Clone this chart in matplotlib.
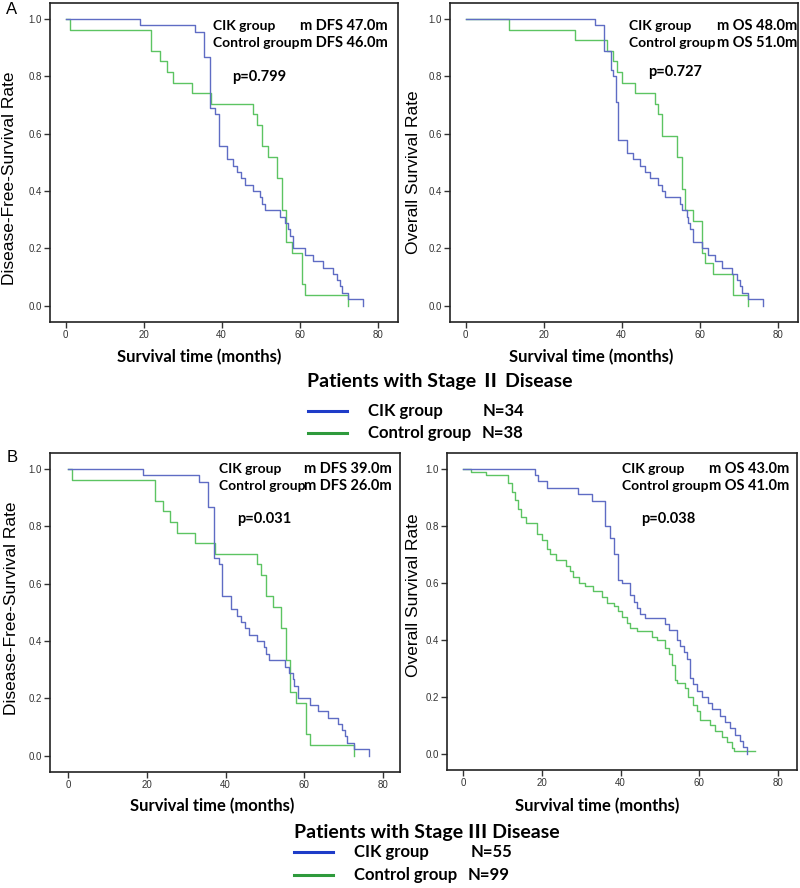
import numpy as np
import matplotlib
matplotlib.use("Agg")
import matplotlib.pyplot as plt

plt.rcParams['font.family'] = ['Liberation Sans', 'DejaVu Sans']

# ---- data (months, survival after each event) ----
# Stage II, disease-free survival
dfs2_cik_t = [19.1, 33.2, 35.5, 37.0, 38.3, 39.2, 41.3, 43.0, 44.0, 44.9, 46.0, 48.1, 49.8, 50.3,
              51.1, 55.0, 56.2, 57.1, 57.5, 58.4, 61.4, 63.5, 66.1, 68.6, 69.5, 70.3, 70.8, 72.5, 76.3]
dfs2_cik_s = [0.978, 0.956, 0.867, 0.689, 0.667, 0.556, 0.511, 0.489, 0.467, 0.444, 0.422, 0.400, 0.378, 0.356,
              0.333, 0.311, 0.289, 0.267, 0.244, 0.200, 0.178, 0.156, 0.133, 0.111, 0.089, 0.067, 0.044, 0.022, 0.0]
dfs2_ctl_t = [1.1, 22.0, 24.2, 26.0, 27.6, 32.3, 37.2, 48.1, 49.0, 50.3, 52.0, 54.1, 55.4, 56.4,
              58.0, 60.5, 61.4, 72.5]
dfs2_ctl_s = [0.963, 0.889, 0.852, 0.815, 0.778, 0.741, 0.704, 0.667, 0.630, 0.556, 0.519, 0.444, 0.333, 0.222,
              0.185, 0.074, 0.037, 0.0]

# Stage II, overall survival
os2_cik_t = [33.2, 35.5, 37.2, 37.9, 38.6, 39.1, 41.3, 43.0, 44.7, 46.0, 47.3, 49.4, 50.3, 51.1, 55.0,
             55.4, 56.7, 57.1, 57.5, 58.2, 60.5, 62.2, 63.9, 65.6, 68.2, 69.5, 70.3, 70.8, 72.5, 76.3]
os2_cik_s = [0.978, 0.889, 0.822, 0.800, 0.711, 0.578, 0.533, 0.511, 0.489, 0.467, 0.444, 0.422, 0.400, 0.378, 0.356,
             0.333, 0.311, 0.289, 0.267, 0.222, 0.200, 0.178, 0.156, 0.133, 0.111, 0.089, 0.067, 0.044, 0.022, 0.0]
os2_ctl_t = [11.1, 28.0, 36.2, 37.9, 38.8, 40.0, 43.4, 48.5, 49.4, 50.3, 54.1, 55.4, 56.2, 58.4, 60.5,
             61.4, 63.5, 68.6, 72.5]
os2_ctl_s = [0.963, 0.926, 0.889, 0.852, 0.815, 0.778, 0.741, 0.704, 0.667, 0.593, 0.519, 0.407, 0.333, 0.296, 0.185,
             0.148, 0.111, 0.037, 0.0]

# Stage III, disease-free survival (same curves as printed in panel A)
dfs3_cik_t, dfs3_cik_s = dfs2_cik_t, dfs2_cik_s
dfs3_ctl_t, dfs3_ctl_s = dfs2_ctl_t, dfs2_ctl_s

# Stage III, overall survival
os3_cik_t = [18.2, 19.1, 21.2, 29.3, 32.7, 36.0, 37.3, 38.2, 39.4, 40.3, 42.4, 43.3, 44.1, 45.0, 46.2, 51.3, 52.2,
             54.3, 55.1, 56.0, 56.8, 57.7, 58.5, 59.4, 60.6, 62.3, 63.2, 65.3, 66.6, 67.9, 69.1, 70.4, 71.2, 72.1]
os3_cik_s = [0.978, 0.956, 0.933, 0.911, 0.889, 0.800, 0.756, 0.700, 0.611, 0.600, 0.556, 0.533, 0.511, 0.489, 0.478,
             0.456, 0.433, 0.400, 0.378, 0.356, 0.333, 0.267, 0.244, 0.222, 0.200, 0.178, 0.156, 0.133, 0.111,
             0.089, 0.067, 0.044, 0.022, 0.0]
os3_ctl_t = [2.1, 5.9, 11.5, 12.3, 13.1, 14.0, 14.8, 16.0, 18.7, 20.0, 21.2, 22.0, 23.7, 26.0, 27.1, 28.0, 29.5,
             31.0, 33.0, 35.2, 36.5, 38.2, 39.4, 40.3, 41.6, 42.4, 44.1, 47.9, 49.2, 51.3, 52.2, 53.0, 53.9,
             54.3, 56.4, 57.2, 58.5, 59.4, 60.2, 62.8, 64.0, 65.8, 67.0, 68.3, 68.7, 74.2]
os3_ctl_s = [0.99, 0.98, 0.95, 0.92, 0.89, 0.86, 0.83, 0.81, 0.77, 0.75, 0.72, 0.70, 0.68, 0.66, 0.64, 0.62, 0.60,
             0.59, 0.57, 0.55, 0.53, 0.52, 0.50, 0.48, 0.46, 0.44, 0.43, 0.41, 0.40, 0.37, 0.35, 0.31, 0.26,
             0.25, 0.23, 0.20, 0.17, 0.15, 0.12, 0.10, 0.08, 0.06, 0.04, 0.02, 0.01, 0.01]

medians = [("m DFS 47.0m", "m DFS 46.0m"), ("m OS 48.0m", "m OS 51.0m"),
           ("m DFS 39.0m", "m DFS 26.0m"), ("m OS 43.0m", "m OS 41.0m")]
pvals = ["p=0.799", "p=0.727", "p=0.031", "p=0.038"]
ylabels = ["Disease-Free-Survival Rate", "Overall Survival Rate"] * 2
n_counts = [("N=34", "N=38"), ("N=55", "N=99")]
stages = ["Patients with Stage \u2161 Disease", "Patients with Stage \u2162 Disease"]

curves = [(dfs2_cik_t, dfs2_cik_s, dfs2_ctl_t, dfs2_ctl_s),
          (os2_cik_t, os2_cik_s, os2_ctl_t, os2_ctl_s),
          (dfs3_cik_t, dfs3_cik_s, dfs3_ctl_t, dfs3_ctl_s),
          (os3_cik_t, os3_cik_s, os3_ctl_t, os3_ctl_s)]

BLUE = '#5f6cc4'
GREEN = '#5cc462'
BOLD = dict(family=['Lato', 'Noto Sans CJK SC', 'DejaVu Sans'], weight='bold')

W, H = 800, 888
fig = plt.figure(figsize=(8, 8.88), dpi=100)

# axes boxes in pixels: left, top, right, bottom
boxes = [(50, 3, 398, 322), (450, 3, 798, 322), (50, 453, 400, 772), (447, 453, 797, 770)]
xlims = [(-4.0, 85.2), (-4.0, 85.2), (-4.6, 84.3), (-4.1, 84.8)]
ylab_pos = [(10, 178), (413, 172), (12, 608), (413, 595)]
text_pos = [(0.468, 0.971, 0.523), (0.514, 0.997, 0.569), (0.483, 0.977, 0.534), (0.500, 0.977, 0.554)]
row_y = [(0.928, 0.875, 0.768), (0.928, 0.875, 0.784), (0.950, 0.897, 0.793), (0.950, 0.896, 0.792)]

for i, (l, t, r, b) in enumerate(boxes):
    ax = fig.add_axes([l / W, 1 - b / H, (r - l) / W, (b - t) / H])
    ct, cs, gt, gs = curves[i]
    ax.step(np.r_[0, gt], np.r_[1, gs], where='post', color=GREEN, lw=1.0)
    ax.step(np.r_[0, ct], np.r_[1, cs], where='post', color=BLUE, lw=1.0)
    ax.set_xlim(*xlims[i])
    ax.set_ylim(-0.057, 1.056)
    ax.set_xticks([0, 20, 40, 60, 80])
    ax.set_yticks([0, 0.2, 0.4, 0.6, 0.8, 1.0])
    ax.set_yticklabels(['0.0', '0.2', '0.4', '0.6', '0.8', '1.0'])
    ax.tick_params(labelsize=7, colors='#333333', length=4, width=1.0, pad=2)
    for sp in ax.spines.values():
        sp.set_linewidth(1.2)
        sp.set_color('#222222')

    xc, xr, xp = text_pos[i]
    y1, y2, yp = row_y[i]
    m1, m2 = medians[i]
    ax.text(xc, y1, "CIK group", transform=ax.transAxes, fontsize=10, va='center', **BOLD)
    ax.text(xc, y2, "Control group", transform=ax.transAxes, fontsize=10, va='center', **BOLD)
    ax.text(xr, y1, m1, transform=ax.transAxes, fontsize=10.5, va='center', ha='right', **BOLD)
    ax.text(xr, y2, m2, transform=ax.transAxes, fontsize=10.5, va='center', ha='right', **BOLD)
    ax.text(xp, yp, pvals[i], transform=ax.transAxes, fontsize=10.5, va='center', **BOLD)

    fig.text(ylab_pos[i][0] / W, 1 - ylab_pos[i][1] / H, ylabels[i], rotation=90,
             ha='center', va='center', fontsize=12.5)

# x labels
for x, y in [(199, 357), (591, 357), (212, 806), (597, 806)]:
    fig.text(x / W, 1 - y / H, "Survival time (months)", ha='center', va='center', fontsize=12, **BOLD)

# panel letters
fig.text(12 / W, 1 - 9 / H, "A", ha='center', va='center', fontsize=12)
fig.text(12 / W, 1 - 458 / H, "B", ha='center', va='center', fontsize=12)

# stage titles and legends
legend_cfg = [
    dict(title=(307, 382), l0=308, l1=347, rows=(411, 433), tx=368, nx=(524, 523)),
    dict(title=(294, 832), l0=294, l1=333, rows=(852, 875), tx=354, nx=(512, 510)),
]
for k, cfg in enumerate(legend_cfg):
    fig.text(cfg['title'][0] / W, 1 - cfg['title'][1] / H, stages[k], ha='left', va='center',
             fontsize=14, **BOLD)
    for j, (col, name) in enumerate([('#1e3cc8', "CIK group"), ('#2e9a3c', "Control group")]):
        yy = 1 - cfg['rows'][j] / H
        fig.add_artist(plt.Line2D([cfg['l0'] / W, cfg['l1'] / W], [yy, yy], color=col, lw=2.2,
                                  transform=fig.transFigure))
        fig.text(cfg['tx'] / W, yy, name, ha='left', va='center', fontsize=12, **BOLD)
        fig.text(cfg['nx'][j] / W, yy, n_counts[k][j], ha='right', va='center', fontsize=12, **BOLD)

fig.savefig("out.png", dpi=100)
